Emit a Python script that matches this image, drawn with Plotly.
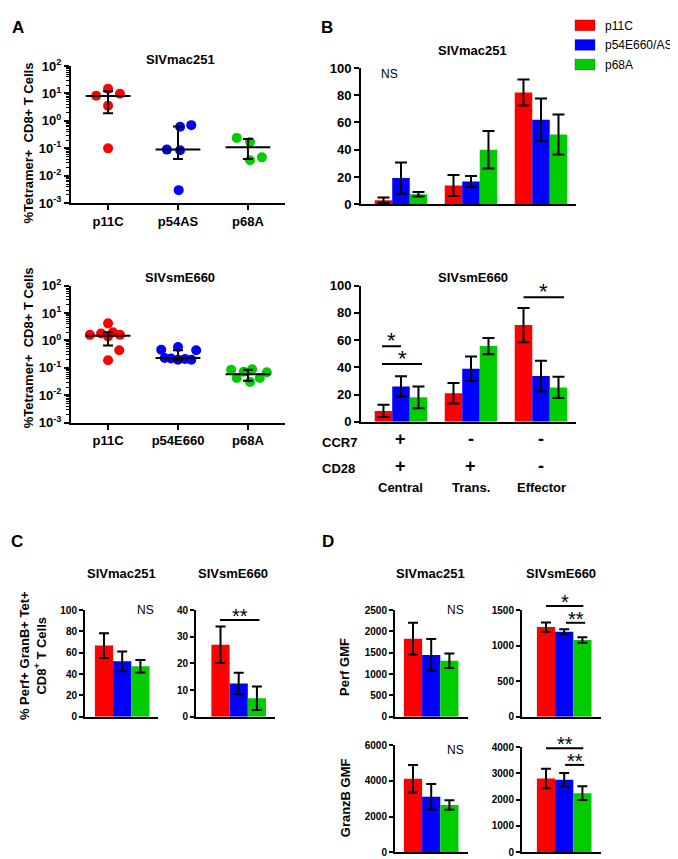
import plotly.graph_objects as go
import numpy as np

W, H = 678, 859
RED, BLUE, GREEN = "#FF0000", "#0000FF", "#00CC00"
COLORS = [RED, BLUE, GREEN]
FONT = "Liberation Sans"

# ---------------- DATA ----------------
# Panel A (scatter, % tetramer+), median + IQR
A_cats_mac = ["p11C", "p54AS", "p68A"]
A_cats_sm = ["p11C", "p54E660", "p68A"]
A_mac_p11C = [8.3, 14.7, 9.7, 3.6, 0.1]
A_mac_p54 = [0.09, 0.61, 0.7, 0.085, 0.003]
A_mac_p68 = [0.24, 0.17, 0.037, 0.047]
A_mac_median = [8.0, 0.09, 0.11]
A_mac_q1 = [1.9, 0.041, 0.041]
A_mac_q3 = [12.0, 0.63, 0.22]
A_sm_p11C = [4.2, 1.6, 1.8, 2.0, 1.6, 1.4, 0.44, 0.19]
A_sm_p54 = [0.46, 0.58, 0.44, 0.23, 0.22, 0.20, 0.21, 0.20]
A_sm_p68 = [0.085, 0.09, 0.07, 0.072, 0.043, 0.031, 0.043]
A_sm_median = [1.5, 0.23, 0.059]
A_sm_q1 = [0.65, 0.19, 0.034]
A_sm_q3 = [2.0, 0.44, 0.085]

# Panel B (memory subsets, %)
B_groups = ["Central", "Trans.", "Effector"]
B_ccr7 = ["+", "-", "-"]
B_cd28 = ["+", "+", "-"]
B_series = ["p11C", "p54E660/AS", "p68A"]
B_mac_vals = [[3, 13.7, 82], [19.2, 16.7, 62], [7.3, 40, 51.2]]
B_mac_err = [[2, 7.7, 9.6], [11.5, 4, 15.6], [1.7, 13.7, 14.7]]
B_sm_vals = [[8, 21, 71], [26, 39, 33.6], [18, 55.6, 25.2]]
B_sm_err = [[4.5, 7.5, 12.6], [7.5, 9, 11.2], [8, 6, 7.8]]

# Panel C (% Perf+ GranB+)
C_mac_vals = [66.7, 52, 47.4]
C_mac_err = [11.6, 9.2, 5.8]
C_sm_vals = [27, 12.5, 7]
C_sm_err = [6.8, 4, 4.4]

# Panel D (GMF)
D_perf_mac = [1830, 1450, 1315]
D_perf_mac_err = [370, 370, 170]
D_perf_sm = [1260, 1195, 1080]
D_perf_sm_err = [65, 35, 38]
D_gz_mac = [4120, 3110, 2650]
D_gz_mac_err = [770, 710, 270]
D_gz_sm = [2810, 2760, 2250]
D_gz_sm_err = [370, 255, 265]

# ---------------- LAYOUT HELPERS ----------------
def dx(a, b):
    return [a / W, b / W]

def dy(top, bottom):
    return [1 - bottom / H, 1 - top / H]

def px(x, y):
    return x / W, 1 - y / H

fig = go.Figure()
annotations = []
shapes = []

def ann(text, x, y, size=13, bold=True, xanchor="center", yanchor="middle", angle=0, xref="paper", yref="paper"):
    annotations.append(dict(text=text, x=x, y=y, xref=xref, yref=yref, showarrow=False,
                            xanchor=xanchor, yanchor=yanchor, textangle=angle,
                            font=dict(family=FONT, size=size, color="black",
                                      weight="bold" if bold else "normal")))

def pann(text, x, y, **kw):
    X, Y = px(x, y)
    ann(text, X, Y, **kw)

axis_base = dict(showline=True, linecolor="black", linewidth=2, showgrid=False, zeroline=False,
                 ticks="outside", tickcolor="black", tickwidth=2, ticklen=4,
                 tickfont=dict(family=FONT, size=12, color="black", weight="bold"))

layout_axes = {}

def add_axes(n, xdom, ydom, xopts, yopts):
    xa = dict(axis_base); xa.update(domain=xdom, anchor=f"y{n}" if n > 1 else "y"); xa.update(xopts)
    ya = dict(axis_base); ya.update(domain=ydom, anchor=f"x{n}" if n > 1 else "x"); ya.update(yopts)
    kx = "xaxis" if n == 1 else f"xaxis{n}"
    ky = "yaxis" if n == 1 else f"yaxis{n}"
    layout_axes[kx] = xa
    layout_axes[ky] = ya

def refs(n):
    return ("x", "y") if n == 1 else (f"x{n}", f"y{n}")

# ---------------- PANEL A ----------------
log_ticks = [1e-3, 1e-2, 1e-1, 1, 10, 100]
log_text = ["10<sup>-3</sup>", "10<sup>-2</sup>", "10<sup>-1</sup>", "10<sup>0</sup>", "10<sup>1</sup>", "10<sup>2</sup>"]
minor_vals = [m * 10.0 ** e for e in range(-3, 2) for m in range(2, 10)]

def panel_A(n, ytop, ybot, cats, groups, jitters, med, q1, q3):
    add_axes(n, dx(63, 277), dy(ytop, ybot),
             dict(range=[-0.53, 2.53], tickmode="array", tickvals=[0, 1, 2], ticktext=cats, ticklen=5,
                  tickfont=dict(family=FONT, size=13, color="black", weight="bold")),
             dict(type="log", range=[-3, 2], tickmode="array", tickvals=log_ticks, ticktext=log_text,
                  ticklen=5, tickfont=dict(family=FONT, size=13, color="black", weight="bold"),
                  minor=dict(tickmode="array", tickvals=minor_vals, ticks="outside",
                             ticklen=3, tickwidth=1, tickcolor="black")))
    xr, yr = refs(n)
    for i, (vals, jit) in enumerate(zip(groups, jitters)):
        fig.add_trace(go.Scatter(x=[i + j for j in jit], y=vals, mode="markers", xaxis=xr, yaxis=yr,
                                 marker=dict(color=COLORS[i], size=10), showlegend=False, cliponaxis=False))
    for i in range(3):
        fig.add_trace(go.Scatter(x=[i - 0.32, i + 0.32], y=[med[i], med[i]], mode="lines", xaxis=xr, yaxis=yr,
                                 line=dict(color="black", width=2), showlegend=False))
    fig.add_trace(go.Scatter(x=[0, 1, 2], y=med, mode="markers", xaxis=xr, yaxis=yr,
                             marker=dict(size=1, color="rgba(0,0,0,0)"), showlegend=False,
                             error_y=dict(type="data", symmetric=False,
                                          array=[q3[i] - med[i] for i in range(3)],
                                          arrayminus=[med[i] - q1[i] for i in range(3)],
                                          color="black", thickness=2, width=5)))

panel_A(1, 50, 190, A_cats_mac, [A_mac_p11C, A_mac_p54, A_mac_p68],
        [[-0.17, 0, 0.17, 0, 0], [-0.16, 0.03, 0.19, 0.03, 0.01], [-0.16, 0.03, 0.03, 0.2]],
        A_mac_median, A_mac_q1, A_mac_q3)
panel_A(2, 274, 414, A_cats_sm, [A_sm_p11C, A_sm_p54, A_sm_p68],
        [[0, -0.26, -0.1, 0.07, 0.17, 0.0, 0.16, 0], [-0.24, 0, 0.26, -0.19, -0.1, 0, 0.1, 0.19],
         [-0.24, 0.06, 0.27, -0.06, -0.16, 0.03, 0.17]],
        A_sm_median, A_sm_q1, A_sm_q3)

pann("SIVmac251", 172, 43, size=13)
pann("SIVsmE660", 172, 266, size=13)
pann("%Tetramer+  CD8+ T Cells", 20, 129, size=13, angle=-90)
pann("%Tetramer+  CD8+ T Cells", 20, 338, size=13, angle=-90)

# ---------------- PANEL B ----------------
BW = 0.25
def panel_B(n, ytop, ybot, vals, errs):
    add_axes(n, dx(353, 568), dy(ytop, ybot),
             dict(range=[-0.571, 2.5], showticklabels=False, ticks=""),
             dict(range=[0, 100], tickmode="array", tickvals=[0, 20, 40, 60, 80, 100], ticklen=5,
                  tickfont=dict(family=FONT, size=13, color="black", weight="bold")))
    xr, yr = refs(n)
    for k in range(3):
        fig.add_trace(go.Bar(x=[g + (k - 1) * BW for g in range(3)], y=vals[k], width=BW,
                             marker=dict(color=COLORS[k], line=dict(width=0)), name=B_series[k],
                             xaxis=xr, yaxis=yr, showlegend=False,
                             error_y=dict(type="data", array=errs[k], color="black", thickness=2, width=6)))

panel_B(3, 52, 191, B_mac_vals, B_mac_err)
panel_B(4, 274, 413, B_sm_vals, B_sm_err)
pann("SIVmac251", 465, 34, size=13)
pann("SIVsmE660", 465, 266, size=13)
pann("NS", 382, 58, size=12, bold=False)

# legend (drawn as boxes + labels, top right)
for k, name in enumerate(B_series):
    x0, y0 = px(567, 3 + 20 * k)
    x1, y1 = px(587, 14 + 20 * k)
    shapes.append(dict(type="rect", xref="paper", yref="paper", x0=x0, x1=x1, y0=y1, y1=y0,
                       fillcolor=COLORS[k], line=dict(color="rgba(0,0,0,0.25)", width=1)))
    pann(name, 595, 9 + 20 * k, size=12, bold=False, xanchor="left")

# significance in B bottom
B_sig = [([-0.27, 0.0], 55.4, "*"), ([-0.27, 0.3], 42.4, "*"), ([1.75, 2.33], 91.4, "*")]
for xs, yv, lab in B_sig:
    fig.add_trace(go.Scatter(x=xs, y=[yv, yv], mode="lines", xaxis="x4", yaxis="y4",
                             line=dict(color="black", width=2), showlegend=False, cliponaxis=False))
    annotations.append(dict(text=lab, x=sum(xs) / 2, y=yv, xref="x4", yref="y4", showarrow=False,
                            yanchor="bottom", yshift=-9, font=dict(family=FONT, size=22, color="black")))

# row labels under B bottom
pann("CCR7", 312, 434, size=13, xanchor="left")
pann("CD28", 312, 461, size=13, xanchor="left")
for g in range(3):
    annotations.append(dict(text=B_ccr7[g], x=g, y=px(0, 431)[1], xref="x4", yref="paper", showarrow=False,
                            font=dict(family=FONT, size=18, color="black", weight="bold")))
    annotations.append(dict(text=B_cd28[g], x=g, y=px(0, 458)[1], xref="x4", yref="paper", showarrow=False,
                            font=dict(family=FONT, size=18, color="black", weight="bold")))
    annotations.append(dict(text=B_groups[g], x=g, y=px(0, 480)[1], xref="x4", yref="paper", showarrow=False,
                            font=dict(family=FONT, size=13, color="black", weight="bold")))

# ---------------- PANELS C & D (small bar charts) ----------------
small_font = dict(family=FONT, size=10, color="black", weight="bold")
small_ymax = {}
def small_panel(n, xl, xr_, center0, ytop, ybot, vals, errs, ymax, dtick):
    unit = 18.2
    small_ymax[n] = ymax
    add_axes(n, dx(xl, xr_), dy(ytop, ybot),
             dict(range=[(xl - center0) / unit, (xr_ - center0) / unit], showticklabels=False, ticks=""),
             dict(range=[0, ymax], dtick=dtick, tick0=0, ticklen=4, tickfont=small_font))
    xa, ya = refs(n)
    for k in range(3):
        fig.add_trace(go.Bar(x=[k], y=[vals[k]], width=1.0, marker=dict(color=COLORS[k], line=dict(width=0)),
                             xaxis=xa, yaxis=ya, showlegend=False,
                             error_y=dict(type="data", array=[errs[k]], color="black", thickness=2, width=5)))

small_panel(5, 77, 150, 96, 605, 714, C_mac_vals, C_mac_err, 100, 20)
small_panel(6, 188, 267, 212.5, 605, 714, C_sm_vals, C_sm_err, 40, 10)
small_panel(7, 387, 460, 405, 605, 714, D_perf_mac, D_perf_mac_err, 2500, 500)
small_panel(8, 514, 593, 538, 605, 714, D_perf_sm, D_perf_sm_err, 1500, 500)
small_panel(9, 387, 460, 405, 743, 852, D_gz_mac, D_gz_mac_err, 6000, 2000)
small_panel(10, 514, 593, 538, 745, 852, D_gz_sm, D_gz_sm_err, 4000, 1000)

small_sig = [(6, [-0.03, 2.14], 36.3, "**"),
             (8, [0.0, 2.05], 1555, "*"), (8, [1.1, 2.15], 1321, "**"),
             (10, [0.0, 2.05], 3963, "**"), (10, [1.05, 2.1], 3327, "**")]
for n, xs, yv, lab in small_sig:
    xa, ya = refs(n)
    yd = yv / small_ymax[n]  # position in the y axis' domain fraction (linear axis from 0)
    shapes.append(dict(type="line", xref=xa, yref=f"{ya} domain", x0=xs[0], x1=xs[1], y0=yd, y1=yd,
                       line=dict(color="black", width=2)))
    annotations.append(dict(text=lab, x=sum(xs) / 2, y=yd, xref=xa, yref=f"{ya} domain", showarrow=False,
                            yanchor="bottom", yshift=-9, font=dict(family=FONT, size=20, color="black")))

pann("SIVmac251", 113, 568, size=13)
pann("SIVsmE660", 225, 568, size=13)
pann("SIVmac251", 422, 568, size=13)
pann("SIVsmE660", 553, 568, size=13)
pann("NS", 137, 605, size=12, bold=False)
pann("NS", 447, 605, size=12, bold=False)
pann("NS", 447, 748, size=12, bold=False)
pann("% Perf+ GranB+ Tet+<br>CD8<sup>+</sup> T Cells", 25, 652, size=13, angle=-90)
pann("Perf GMF", 337, 663, size=13, angle=-90)
pann("GranzB GMF", 337, 797, size=13, angle=-90)

# panel letters
pann("A", 10, 11, size=17)
pann("B", 319, 11, size=17)
pann("C", 9, 535, size=17)
pann("D", 320, 535, size=17)

fig.update_layout(
    width=W, height=H, margin=dict(l=0, r=0, t=0, b=0),
    paper_bgcolor="white", plot_bgcolor="white",
    barmode="overlay", annotations=annotations, shapes=shapes, showlegend=False,
    **layout_axes,
)
fig.write_html("out.html")
